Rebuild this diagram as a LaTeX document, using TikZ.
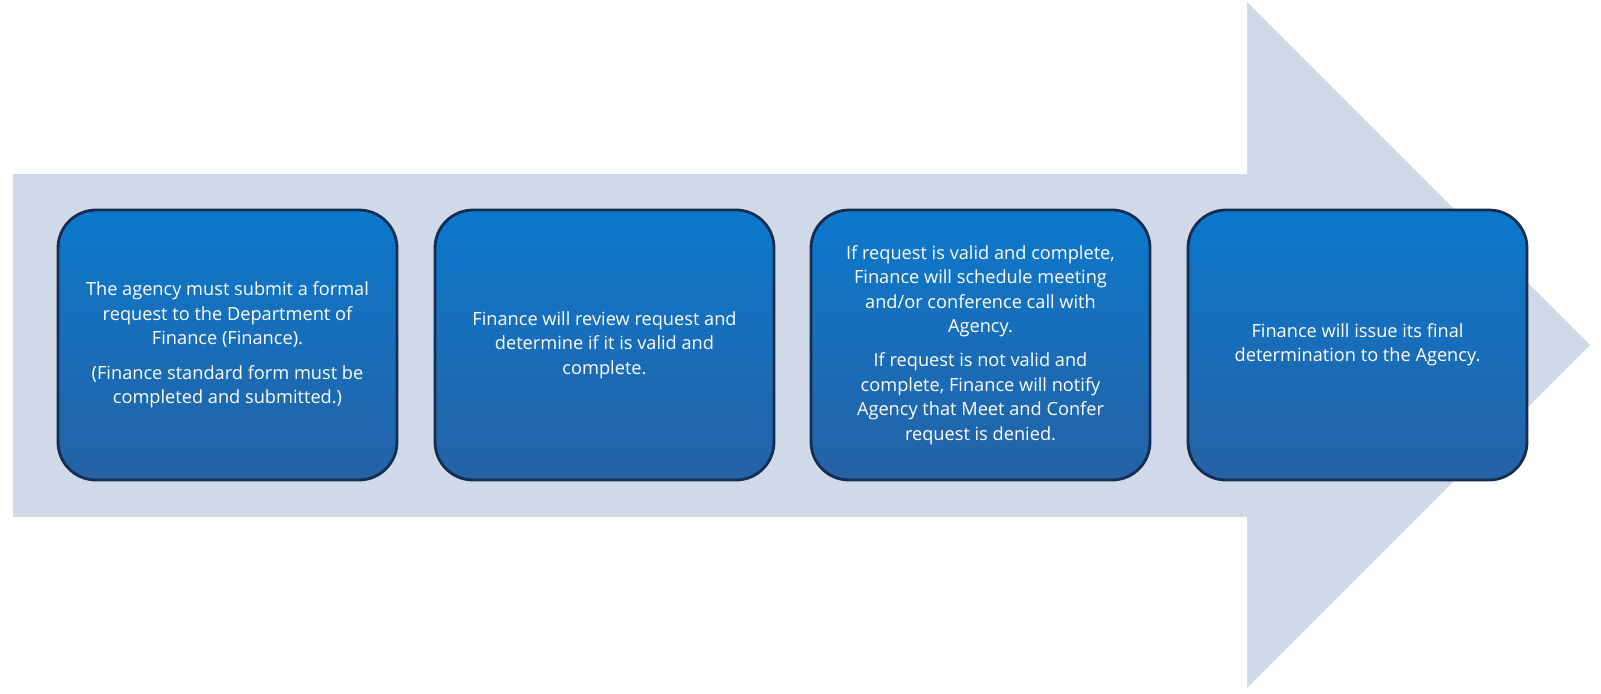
\documentclass[tikz,border=0pt]{standalone}
\usepackage{fontspec}
\setmainfont{Open Sans}
\definecolor{arrowc}{RGB}{208,217,232}
\definecolor{boxtop}{RGB}{12,120,204}
\definecolor{boxbot}{RGB}{37,98,165}
\definecolor{boxedge}{RGB}{20,45,80}
\tikzset{
  stepbox/.style={rounded corners=19pt, minimum width=169.5pt, minimum height=135pt,
    top color=boxtop, bottom color=boxbot, draw=boxedge, line width=1.4pt,
    text=white, align=center, font=\fontsize{9.1}{12.2}\selectfont, inner sep=0pt},
  bigarrow/.style={fill=arrowc, draw=none}
}
\begin{document}
\begin{tikzpicture}[x=0.5pt,y=-0.5pt]
\useasboundingbox (0,0) rectangle (1601,693);
\fill[white] (0,0) rectangle (1601,693);
\fill[bigarrow] (13,174) -- (1247,174) -- (1247,2) -- (1590,345) -- (1247,688) -- (1247,517) -- (13,517) -- cycle;
\node[stepbox] (s1) at (227.5,345) {The agency must submit a formal\\request to the Department of\\Finance (Finance).\\[5pt](Finance standard form must be\\completed and submitted.)};
\node[stepbox] (s2) at (604.5,345) {Finance will review request and\\determine if it is valid and\\complete.};
\node[stepbox] (s3) at (980.5,345) {If request is valid and complete,\\Finance will schedule meeting\\and/or conference call with\\Agency.\\[5pt]If request is not valid and\\complete, Finance will notify\\Agency that Meet and Confer\\request is denied.};
\node[stepbox] (s4) at (1357.5,345) {Finance will issue its final\\determination to the Agency.};
\end{tikzpicture}
\end{document}
